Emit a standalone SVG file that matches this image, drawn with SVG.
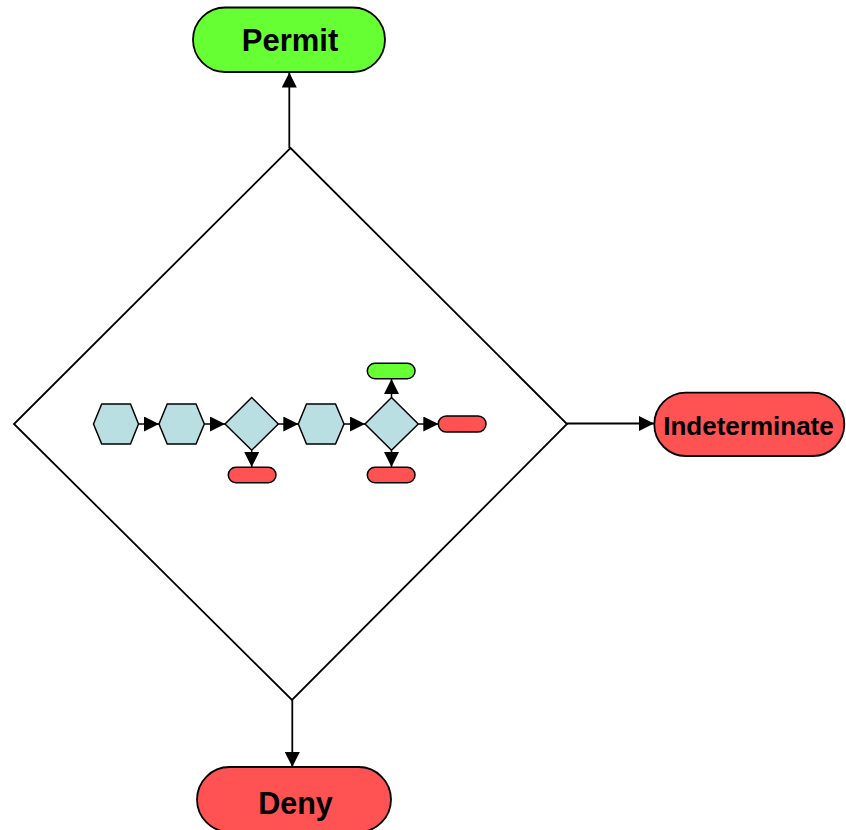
<svg xmlns="http://www.w3.org/2000/svg" width="846" height="830" viewBox="0 0 846 830">
  <defs>
    <marker id="arrow" viewBox="0 0 10 10" refX="10" refY="5" markerUnits="userSpaceOnUse" markerWidth="15" markerHeight="15" orient="auto">
      <path d="M0,0 L10,5 L0,10 Z" fill="#000"/>
    </marker>
    <marker id="arrowSmall" viewBox="0 0 10 10" refX="10" refY="5" markerUnits="userSpaceOnUse" markerWidth="15" markerHeight="15" orient="auto">
      <path d="M0,0 L10,5 L0,10 Z" fill="#000"/>
    </marker>
  </defs>
  <style>
    .big { stroke: #000; stroke-width: 1.8; }
    .permit { fill: #66ff33; }
    .deny { fill: #ff5252; }
    .step { fill: #badfe2; stroke: #000; stroke-width: 1.5; }
    .pill { stroke: #000; stroke-width: 1.5; }
    .label { font-family: "Liberation Sans", Arial, sans-serif; font-weight: bold; fill: #000; text-anchor: middle; }
    .edge { stroke: #000; stroke-width: 1.8; fill: none; }
    .edge-s { stroke: #000; stroke-width: 1.5; fill: none; }
  </style>
  <rect width="846" height="830" fill="#fff"/>

  <!-- main decision -->
  <g id="decision">
    <polygon points="290.5,148 567,424 292,700 14,424" fill="#fff" class="big"/>
  </g>

  <!-- inner policy flow -->
  <g id="step1"><polygon class="step" points="93.5,424 101.7,404 130.5,404 138.5,424 130.5,444 101.7,444"/></g>
  <g id="step2"><polygon class="step" points="159,424 167.2,404 196,404 204.3,424 196,444 167.2,444"/></g>
  <g id="check1"><polygon class="step" points="251.7,397.5 278.3,424 251.7,450.3 225,424"/></g>
  <g id="step3"><polygon class="step" points="298.3,424 306.5,404 335.5,404 344,424 335.5,444 306.5,444"/></g>
  <g id="check2"><polygon class="step" points="391.5,397.5 418.3,424 391.5,450.3 365,424"/></g>
  <g id="out-permit"><rect class="pill permit" x="367.3" y="363.3" width="47.7" height="15.4" rx="7.7"/></g>
  <g id="out-right"><rect class="pill deny" x="438.3" y="416" width="47.7" height="16" rx="8"/></g>
  <g id="out-down1"><rect class="pill deny" x="228.3" y="467.3" width="47.7" height="15.4" rx="7.7"/></g>
  <g id="out-down2"><rect class="pill deny" x="367.3" y="467.3" width="47.7" height="15.4" rx="7.7"/></g>

  <!-- outcomes -->
  <g id="permit">
    <rect class="big permit" x="193" y="7.5" width="192" height="64.5" rx="32.2"/>
    <text class="label" x="290" y="50.5" font-size="31">Permit</text>
  </g>
  <g id="indeterminate">
    <rect class="big deny" x="654.3" y="392.7" width="190" height="63.3" rx="31.6"/>
    <text class="label" x="748.5" y="434.5" font-size="26">Indeterminate</text>
  </g>
  <g id="deny">
    <rect class="big deny" x="197" y="767" width="194" height="65" rx="32.5"/>
    <text class="label" x="295.5" y="813.5" font-size="30.5">Deny</text>
  </g>

  <!-- connectors -->
  <g id="connectors">
    <line class="edge" x1="289.3" y1="148" x2="289.3" y2="72.5" marker-end="url(#arrow)"/>
    <line class="edge" x1="567" y1="423.5" x2="654" y2="423.5" marker-end="url(#arrow)"/>
    <line class="edge" x1="292.3" y1="700" x2="292.3" y2="767" marker-end="url(#arrow)"/>

    <line class="edge-s" x1="138.5" y1="424" x2="159" y2="424" marker-end="url(#arrowSmall)"/>
    <line class="edge-s" x1="204.3" y1="424" x2="225" y2="424" marker-end="url(#arrowSmall)"/>
    <line class="edge-s" x1="278.3" y1="424" x2="298.3" y2="424" marker-end="url(#arrowSmall)"/>
    <line class="edge-s" x1="344" y1="424" x2="365" y2="424" marker-end="url(#arrowSmall)"/>
    <line class="edge-s" x1="418.3" y1="424" x2="438.3" y2="424" marker-end="url(#arrowSmall)"/>
    <line class="edge-s" x1="391.5" y1="397.5" x2="391.5" y2="379" marker-end="url(#arrowSmall)"/>
    <line class="edge-s" x1="251.7" y1="450.3" x2="251.7" y2="467" marker-end="url(#arrowSmall)"/>
    <line class="edge-s" x1="391.5" y1="450.3" x2="391.5" y2="467" marker-end="url(#arrowSmall)"/>
  </g>
</svg>
